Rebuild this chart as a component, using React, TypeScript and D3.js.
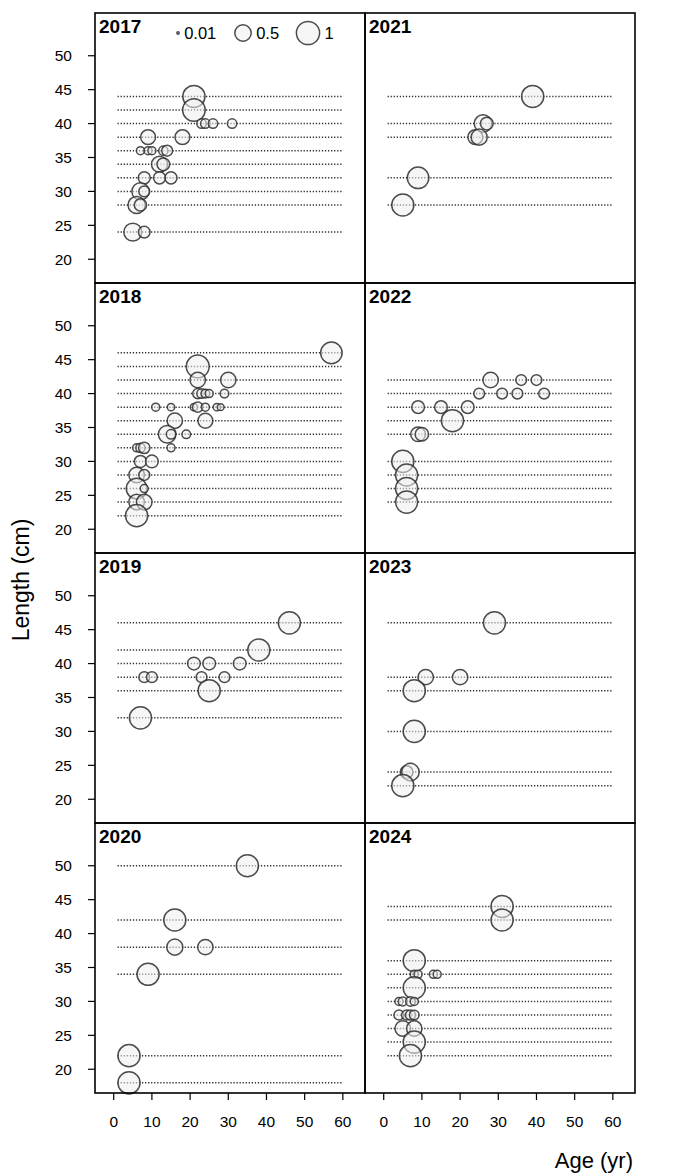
import * as d3 from "d3";

// [length (cm), age (yr), proportion]
type Obs = [number, number, number];

const obs2017: Obs[] = [
  [44, 21, 0.91], [42, 21, 0.95],
  [40, 23, 0.165], [40, 24, 0.165], [40, 26, 0.165], [40, 31, 0.165],
  [38, 9, 0.41], [38, 18, 0.41],
  [36, 7, 0.12], [36, 9, 0.12], [36, 10, 0.12], [36, 13, 0.16], [36, 14, 0.22],
  [34, 12, 0.48], [34, 13, 0.3],
  [32, 8, 0.27], [32, 12, 0.27], [32, 15, 0.27],
  [30, 7, 0.55], [30, 8, 0.22],
  [28, 6, 0.55], [28, 7, 0.28],
  [24, 5, 0.6], [24, 8, 0.25],
];

const obs2018: Obs[] = [
  [46, 57, 0.86], [44, 22, 0.97], [42, 22, 0.44], [42, 30, 0.44],
  [40, 22, 0.19], [40, 23, 0.165], [40, 24, 0.14], [40, 25, 0.12], [40, 29, 0.14],
  [38, 11, 0.12], [38, 15, 0.1], [38, 21, 0.1], [38, 22, 0.2], [38, 24, 0.12], [38, 27, 0.1], [38, 28, 0.085],
  [36, 16, 0.44], [36, 24, 0.41],
  [34, 14, 0.57], [34, 15, 0.165], [34, 19, 0.14],
  [32, 6, 0.12], [32, 7, 0.16], [32, 8, 0.24], [32, 15, 0.12],
  [30, 7, 0.27], [30, 10, 0.3],
  [28, 6, 0.45], [28, 8, 0.22],
  [26, 6, 0.8], [26, 8, 0.12],
  [24, 6, 0.45], [24, 8, 0.45],
  [22, 6, 0.91],
];

const obs2019: Obs[] = [
  [46, 46, 0.91], [42, 38, 0.91],
  [40, 21, 0.3], [40, 25, 0.3], [40, 33, 0.3],
  [38, 8, 0.215], [38, 10, 0.215], [38, 23, 0.215], [38, 29, 0.215],
  [36, 25, 0.91], [32, 7, 0.91],
];

const obs2020: Obs[] = [
  [50, 35, 0.91], [42, 16, 0.91], [38, 16, 0.48], [38, 24, 0.44],
  [34, 9, 0.91], [22, 4, 0.91], [18, 4, 0.91],
];

const obs2021: Obs[] = [
  [44, 39, 0.91], [40, 26, 0.57], [40, 27, 0.3], [38, 24, 0.41], [38, 25, 0.48],
  [32, 9, 0.86], [28, 5, 0.91],
];

const obs2022: Obs[] = [
  [42, 28, 0.44], [42, 36, 0.215], [42, 40, 0.215],
  [40, 25, 0.215], [40, 31, 0.215], [40, 35, 0.215], [40, 42, 0.215],
  [38, 9, 0.3], [38, 15, 0.3], [38, 22, 0.3],
  [36, 18, 0.91],
  [34, 9, 0.4], [34, 10, 0.34],
  [30, 5, 0.91], [28, 6, 0.91], [26, 6, 0.91], [24, 6, 0.91],
];

const obs2023: Obs[] = [
  [46, 29, 0.91], [38, 11, 0.44], [38, 20, 0.44], [36, 8, 0.91], [30, 8, 0.91],
  [24, 6, 0.3], [24, 7, 0.57], [22, 5, 0.91],
];

const obs2024: Obs[] = [
  [44, 31, 0.91], [42, 31, 0.91], [36, 8, 0.91],
  [34, 8, 0.12], [34, 9, 0.12], [34, 13, 0.12], [34, 14, 0.12],
  [32, 8, 0.91],
  [30, 4, 0.12], [30, 5, 0.15], [30, 7, 0.17], [30, 8, 0.12],
  [28, 4, 0.19], [28, 6, 0.19], [28, 7, 0.19], [28, 8, 0.17],
  [26, 5, 0.45], [26, 8, 0.44],
  [24, 8, 0.91], [22, 7, 0.91],
];

const panels: { year: string; data: Obs[] }[] = [
  { year: "2017", data: obs2017 },
  { year: "2018", data: obs2018 },
  { year: "2019", data: obs2019 },
  { year: "2020", data: obs2020 },
  { year: "2021", data: obs2021 },
  { year: "2022", data: obs2022 },
  { year: "2023", data: obs2023 },
  { year: "2024", data: obs2024 },
];

const yTicks = [20, 25, 30, 35, 40, 45, 50];
const xTicks = [0, 10, 20, 30, 40, 50, 60];
const legendValues = [0.01, 0.5, 1];
const ageRange = [1, 60];

const W = 685;
const H = 1176;
const left = 95;
const top = 13;
const pw = 270;
const ph = 270;
const font = "'Liberation Sans', Arial, sans-serif";

export default function App() {
  const x = d3.scaleLinear().domain([-4.9, 65.8]).range([0, pw]);
  const y = d3.scaleLinear().domain([16.5, 56.3]).range([ph, 0]);
  const r = d3.scaleSqrt().domain([0, 1]).range([0, 11.6]);

  return (
    <svg width={W} height={H} style={{ position: "absolute", left: 0, top: 0 }} fontFamily={font}>
      <rect width={W} height={H} fill="#fff" />
      {panels.map((p, i) => {
        const col = Math.floor(i / 4);
        const row = i % 4;
        const px = left + col * pw;
        const py = top + row * ph;
        const lengths = Array.from(new Set(p.data.map((d) => d[0])));
        return (
          <g key={p.year} transform={`translate(${px},${py})`}>
            {lengths.map((L) => (
              <line
                key={L}
                x1={x(ageRange[0])}
                x2={x(ageRange[1])}
                y1={y(L)}
                y2={y(L)}
                stroke="#333"
                strokeWidth={1.5}
                strokeDasharray="1.3,1.75"
              />
            ))}
            {p.data.map((d, j) => (
              <circle
                key={j}
                cx={x(d[1])}
                cy={y(d[0])}
                r={r(d[2])}
                fill="rgba(238,238,238,0.55)"
                stroke="rgba(45,45,45,0.85)"
                strokeWidth={1.5}
              />
            ))}
            <rect width={pw} height={ph} fill="none" stroke="#000" strokeWidth={1.6} />
            <text x={4} y={20} fontSize={19} fontWeight="bold" fill="#000">
              {p.year}
            </text>
            {col === 0 &&
              yTicks.map((t) => (
                <g key={t} transform={`translate(0,${y(t)})`}>
                  <line x1={-7} x2={0} stroke="#000" strokeWidth={1.2} />
                  <text x={-23} dy="0.36em" textAnchor="end" fontSize={15.5} fill="#000">
                    {t}
                  </text>
                </g>
              ))}
            {row === 3 &&
              xTicks.map((t) => (
                <g key={t} transform={`translate(${x(t)},${ph})`}>
                  <line y1={0} y2={7} stroke="#000" strokeWidth={1.2} />
                  <text y={34} textAnchor="middle" fontSize={15.5} fill="#000">
                    {t}
                  </text>
                </g>
              ))}
          </g>
        );
      })}
      {/* legend in first panel */}
      <g transform="translate(0,33)">
        {legendValues.map((v, k) => {
          const cx = [178, 243, 308][k];
          return (
            <g key={v}>
              <circle
                cx={cx}
                r={r(v)}
                fill="rgba(238,238,238,0.55)"
                stroke="rgba(45,45,45,0.85)"
                strokeWidth={1.5}
              />
              <text x={cx + r(v) + 5} dy="0.36em" fontSize={16.5} fill="#000">
                {v}
              </text>
            </g>
          );
        })}
      </g>
      <text
        transform="translate(29,580) rotate(-90)"
        textAnchor="middle"
        fontSize={23}
        fill="#000"
      >
        Length (cm)
      </text>
      <text x={633} y={1168} textAnchor="end" fontSize={22} fill="#000">
        Age (yr)
      </text>
    </svg>
  );
}
